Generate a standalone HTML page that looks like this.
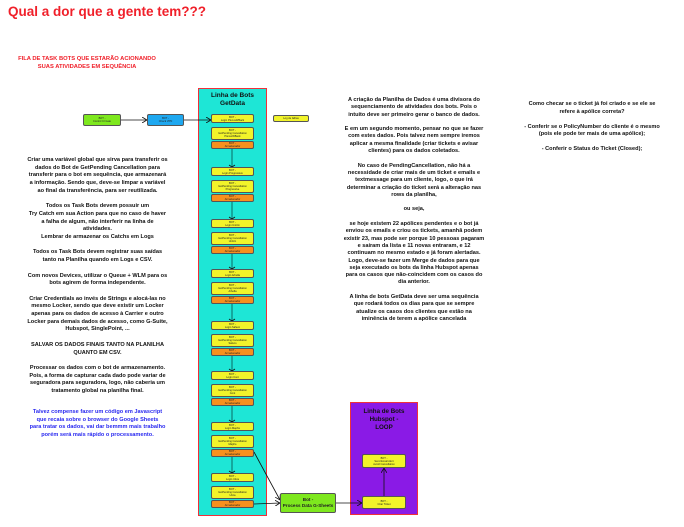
<!DOCTYPE html>
<html><head><meta charset="utf-8"><style>
body{margin:0;width:684px;height:527px;background:#fff;position:relative;overflow:hidden;font-family:"Liberation Sans",sans-serif}
.t{position:absolute;text-align:center;font-weight:bold;color:#111;font-size:5.6px;line-height:7.7px;white-space:nowrap}
.b{position:absolute;box-sizing:border-box;border:0.6px solid #555;border-radius:2px;font-size:2.6px;line-height:3px;text-align:center;display:flex;align-items:center;justify-content:center;flex-direction:column;color:#222;white-space:nowrap}
.y{background:#f2f42a}.o{background:#f7901e}
</style></head><body>
<div style="position:absolute;left:8px;top:4px;font-size:13.5px;font-weight:bold;color:#f0202a">Qual a dor que a gente tem???</div>
<div class="t" style="left:7px;top:55px;width:160px;color:#f0202a;font-size:5.8px;line-height:8px">FILA DE TASK BOTS QUE ESTARÃO ACIONANDO<br>SUAS ATIVIDADES EM SEQUÊNCIA</div>

<div style="position:absolute;left:198px;top:88px;width:69px;height:428px;box-sizing:border-box;border:1.5px solid #f0303a;background:#1ee6d6"></div>
<div class="t" style="left:198px;top:92px;width:69px;font-size:6.5px;line-height:8px">Linha de Bots<br>GetData</div>

<div style="position:absolute;left:350px;top:402px;width:68px;height:113px;box-sizing:border-box;border:1.5px solid #f0303a;background:#8a1ae6"></div>
<div class="t" style="left:350px;top:408px;width:68px;font-size:6.2px;line-height:7.8px">Linha de Bots<br>Hubspot -<br>LOOP</div>

<svg width="684" height="527" style="position:absolute;left:0;top:0">
<defs><marker id="a" markerWidth="6" markerHeight="6" refX="5" refY="3" orient="auto" markerUnits="userSpaceOnUse"><path d="M0,0 L5,3 L0,6" fill="none" stroke="#111" stroke-width="0.8"/></marker></defs>
<g stroke="#111" stroke-width="0.8" fill="none">
<line x1="121" y1="120" x2="147" y2="120" marker-end="url(#a)"/>
<line x1="184" y1="120" x2="211" y2="120" marker-end="url(#a)"/>
<g stroke="#0a6a64" stroke-width="1">
<line x1="232" y1="149" x2="232" y2="167"/>
<line x1="232" y1="202" x2="232" y2="219"/>
<line x1="232" y1="254" x2="232" y2="269"/>
<line x1="232" y1="304" x2="232" y2="321"/>
<line x1="232" y1="356" x2="232" y2="371"/>
<line x1="232" y1="406" x2="232" y2="422"/>
<line x1="232" y1="457" x2="232" y2="473"/>
</g>
<line x1="254" y1="452" x2="280" y2="500" marker-end="url(#a)"/>
<line x1="254" y1="504" x2="280" y2="503" marker-end="url(#a)"/>
<line x1="336" y1="503" x2="362" y2="503" marker-end="url(#a)"/>
<line x1="384" y1="496" x2="384" y2="468" marker-end="url(#a)"/>
</g>
<g stroke="#111" stroke-width="0.8" fill="none">
<path d="M229,165 L232,167 L235,165"/><path d="M229,217 L232,219 L235,217"/><path d="M229,267 L232,269 L235,267"/><path d="M229,319 L232,321 L235,319"/><path d="M229,369 L232,371 L235,369"/><path d="M229,420 L232,422 L235,420"/><path d="M229,471 L232,473 L235,471"/>
</g>
</svg>

<div class="b" style="left:83px;top:114px;width:38px;height:12px;background:#7ee81e">BOT -<br>Control CI Gate</div>
<div class="b" style="left:147px;top:114px;width:37px;height:12px;background:#1ea8f0">BOT -<br>Check VPN</div>
<div class="b y" style="left:273px;top:115px;width:36px;height:7px">Log de falhas</div>

<div id="g"></div>
<script>
var n=["PlenusWBack","Progressive","Unitrin","Arbella","Safeco","Cont","Mapfre","Utica"],ys=[114,167,219,269,321,371,422,473],h="";
for(var i=0;i<8;i++){var y=ys[i];
h+='<div class="b y" style="left:211px;top:'+y+'px;width:43px;height:9px">BOT -<br>Login '+n[i]+'</div>';
h+='<div class="b y" style="left:211px;top:'+(y+13)+'px;width:43px;height:13px">BOT -<br>GetPending Cancellation<br>'+n[i]+'</div>';
h+='<div class="b o" style="left:211px;top:'+(y+27)+'px;width:43px;height:8px">BOT -<br>Armazenador</div>';}
document.getElementById("g").outerHTML=h;
</script>
<div class="b" style="left:280px;top:493px;width:56px;height:20px;background:#7ee81e;font-size:4.6px;line-height:5.6px;font-weight:bold">Bot -<br>Process Data G-Sheets</div>
<div class="b y" style="left:362px;top:454px;width:44px;height:14px">BOT -<br>Send Email Alert<br>Avoid Cancellation</div>
<div class="b y" style="left:362px;top:496px;width:44px;height:13px">BOT -<br>Criar Ticket</div>

<div class="t" style="left:0;top:157px;width:195px">Criar uma variável global que sirva para transferir os<br>dados do Bot de GetPending Cancellation para<br>transferir para o bot em sequência, que armazenará<br>a informação. Sendo que, deve-se limpar a variável<br>ao final da transferência, para ser reutilizada.<br><br>Todos os Task Bots devem possuir um<br>Try Catch em sua Action para que no caso de haver<br>a falha de algum, não interferir na linha de<br>atividades.<br>Lembrar de armazenar os Catchs em Logs<br><br>Todos os Task Bots devem registrar suas saídas<br>tanto na Planilha quando em Logs e CSV.<br><br>Com novos Devices, utilizar o Queue + WLM para os<br>bots agirem de forma independente.<br><br>Criar Credentials ao invés de Strings e alocá-las no<br>mesmo Locker, sendo que deve existir um Locker<br>apenas para os dados de acesso à Carrier e outro<br>Locker para demais dados de acesso, como G-Suite,<br>Hubspot, SinglePoint, ...<br><br>SALVAR OS DADOS FINAIS TANTO NA PLANILHA<br>QUANTO EM CSV.<br><br>Processar os dados com o bot de armazenamento.<br>Pois, a forma de capturar cada dado pode variar de<br>seguradora para seguradora, logo, não caberia um<br>tratamento global na planilha final.</div>
<div class="t" style="left:0;top:409px;width:195px;color:#2a2af0">Talvez compense fazer um código em Javascript<br>que recaia sobre o browser do Google Sheets<br>para tratar os dados, vai dar bemmm mais trabalho<br>porém será mais rápido o processamento.</div>

<div class="t" style="left:314px;top:97px;width:200px;line-height:7.3px">A criação da Planilha de Dados é uma divisora do<br>sequenciamento de atividades dos bots. Pois o<br>intuito deve ser primeiro gerar o banco de dados.<br><br>E em um segundo momento, pensar no que se fazer<br>com estes dados. Pois talvez nem sempre iremos<br>aplicar a mesma finalidade (criar tickets e avisar<br>clientes) para os dados coletados.<br><br>No caso de PendingCancellation, não há a<br>necessidade de criar mais de um ticket e emails e<br>textmessage para um cliente, logo, o que irá<br>determinar a criação do ticket será a alteração nas<br>rows da planilha,<br><br>ou seja,<br><br>se hoje existem 22 apólices pendentes e o bot já<br>enviou os emails e criou os tickets, amanhã podem<br>existir 23, mas pode ser porque 10 pessoas pagaram<br>e saíram da lista e 11 novas entraram, e 12<br>continuam no mesmo estado e já foram alertadas.<br>Logo, deve-se fazer um Merge de dados para que<br>seja executado os bots da linha Hubspot apenas<br>para os casos que não-coincidem com os casos do<br>dia anterior.<br><br>A linha de bots GetData deve ser uma sequência<br>que rodará todos os dias para que se sempre<br>atualize os casos dos clientes que estão na<br>iminência de terem a apólice cancelada</div>

<div class="t" style="left:505px;top:101px;width:174px;line-height:7.5px">Como checar se o ticket já foi criado e se ele se<br>refere à apólice correta?<br><br>- Conferir se o PolicyNumber do cliente é o mesmo<br>(pois ele pode ter mais de uma apólice);<br><br>- Conferir o Status do Ticket (Closed);</div>
</body></html>
